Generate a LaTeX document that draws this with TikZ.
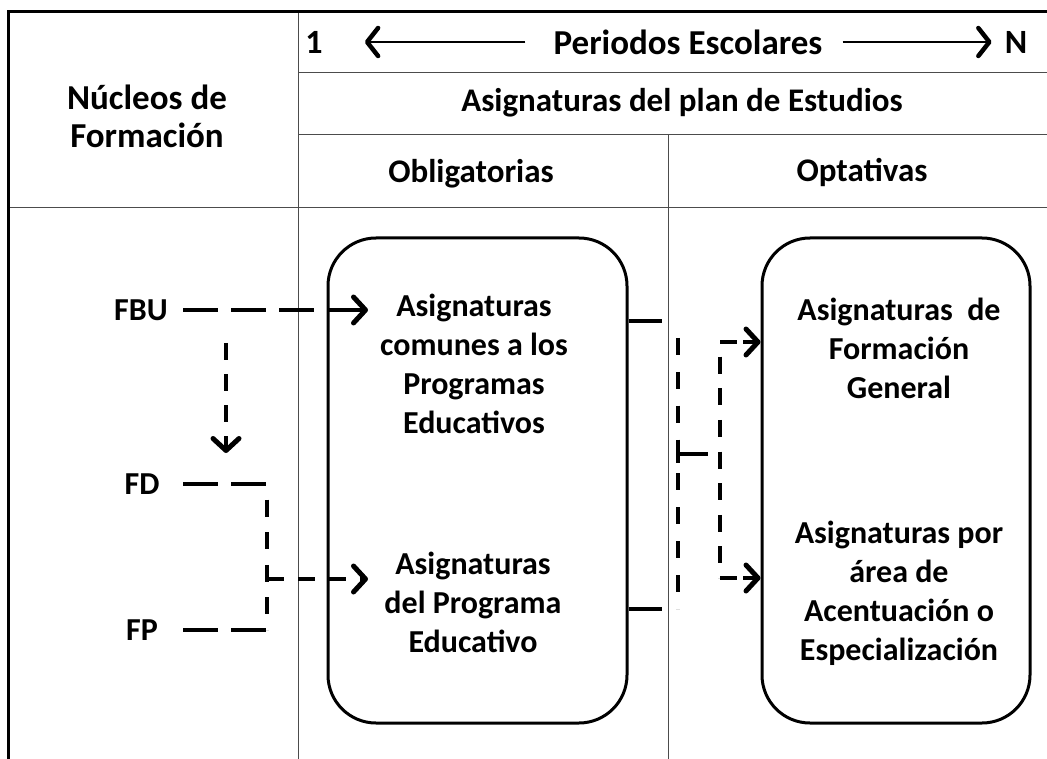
\documentclass[tikz,border=0pt]{standalone}
\usepackage{fontspec}
\setmainfont{Carlito}
\usetikzlibrary{arrows.meta,decorations}
\begin{document}
\begin{tikzpicture}[x=1pt,y=-1pt,
  txt/.style={font=\fontsize{32}{39}\selectfont\bfseries, inner sep=0pt, align=center},
  htxt/.style={font=\fontsize{34}{38}\selectfont\bfseries, inner sep=0pt, align=center},
  thinl/.style={line width=1pt, black!70},
  sline/.style={line width=3.3pt},
  box/.style={draw, line width=3pt, rounded corners=48pt},
  arr/.style={-{Straight Barb[length=12pt,width=26pt,line width=5pt,round]}},
  harr/.style={line width=2.6pt, -{Straight Barb[length=11pt,width=28pt,line width=4.5pt,round]}},
  hdash/.style={line width=3.3pt, dash pattern=on 35pt off 13pt},
  vdash/.style={line width=3.3pt, dash pattern=on 17pt off 14pt},
  sdash/.style={line width=3.3pt, dash pattern=on 17pt off 6pt}]
\useasboundingbox (0,0) rectangle (1047,759);
% grid
\draw[thinl] (298,12) -- (298,759);
\draw[thinl] (298,73) -- (1047,73);
\draw[thinl] (298,135) -- (1047,135);
\draw[thinl] (8,208) -- (1047,208);
\draw[thinl] (668,135) -- (668,759);
\draw[line width=3pt] (8,759) -- (8,12) -- (1047,12);
% header
\node[htxt, font=\fontsize{35}{38}\selectfont\bfseries] (nuc) at (147,116) {Núcleos de\\Formación};
\node[htxt] (one) at (314,42) {1};
\node[htxt, font=\fontsize{35}{38}\selectfont\bfseries] (per) at (688,42) {Periodos Escolares};
\node[htxt] (enn) at (1016,42) {N};
\draw[harr, shorten <=28pt, shorten >=42pt] (per.west) -- (one.east);
\draw[harr, shorten <=20pt, shorten >=13pt] (per.east) -- (enn.west);
\node[htxt, font=\fontsize{33}{38}\selectfont\bfseries] (plan) at (682,103) {Asignaturas del plan de Estudios};
\node[htxt, font=\fontsize{33}{38}\selectfont\bfseries] (oblt) at (471,174) {Obligatorias};
\node[htxt, font=\fontsize{33}{38}\selectfont\bfseries] (optt) at (862,172) {Optativas};
% boxes
\node[box, minimum width=299pt, minimum height=485pt] (obl) at (477.5,480.5) {};
\node[box, minimum width=268pt, minimum height=485pt] (opt) at (896,480.5) {};
\node[txt] (comun) at (474,364) {Asignaturas\\comunes a los\\Programas\\Educativos};
\node[txt] (prog) at (473,602) {Asignaturas\\del Programa\\Educativo};
\node[txt] (fg) at (899,348) {Asignaturas\ \ de\\Formación\\General};
\node[txt] (esp) at (899,593) {Asignaturas por\\área de\\Acentuación o\\Especialización};
% left labels
\node[txt] (fbu) at (141,310) {FBU};
\node[txt] (fd) at (142,484) {FD};
\node[txt] (fp) at (142,630) {FP};
\coordinate (ls) at (183,0);
\coordinate (fbuTip) at (368,310);
\draw[hdash, arr] (ls |- fbu) -- (fbuTip);
\coordinate (d1) at (226,343);
\coordinate (d2) at (226,453);
\draw[vdash, arr] (d1) -- (d2);
\coordinate (fdc) at (267,484);
\coordinate (fpc) at (267,630);
\draw[hdash] (ls |- fd) -- (fdc);
\draw[hdash] (ls |- fp) -- (fpc);
\draw[vdash, dash expand off] (fdc) -- (fpc);
\coordinate (brc) at (267,579);
\coordinate (progTip) at (368,579);
\draw[vdash, arr] (brc) -- (progTip);
% right connectors
\coordinate (ra) at (662,321);
\coordinate (rb) at (662,609);
\draw[sline] (obl.east |- ra) -- (ra);
\draw[sline] (obl.east |- rb) -- (rb);
\coordinate (va) at (678,321);
\coordinate (vb) at (678,609);
\draw[vdash, dash expand off] (va) -- (vb);
\coordinate (tm) at (678,454);
\coordinate (te) at (708,454);
\draw[sline] (tm) -- (te);
\draw[sline] ([yshift=9pt]tm) -- ([yshift=-9pt]tm);
\coordinate (wa) at (720,342);
\coordinate (wb) at (720,578);
\draw[vdash, dash expand off] (wa) -- (wb);
\draw[sdash, arr] (wa) -- (opt.west |- wa);
\draw[sdash, arr] (wb) -- (opt.west |- wb);
\end{tikzpicture}
\end{document}
